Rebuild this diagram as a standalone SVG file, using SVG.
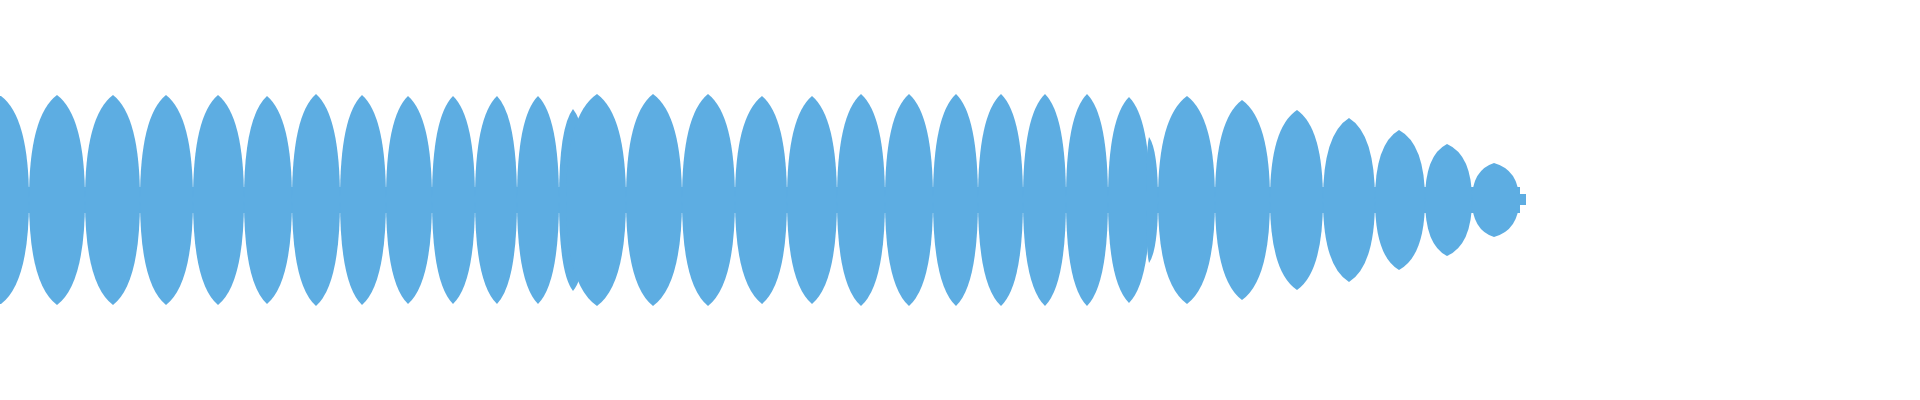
<svg xmlns="http://www.w3.org/2000/svg" width="1920" height="400" viewBox="0 0 1920 400">
<style>.w{fill:#5dade2}</style>
<rect width="1920" height="400" fill="#fff"/>
<g id="waveform" class="w">
<rect x="0" y="187" width="1520" height="26"/>
<rect x="1519" y="194" width="7" height="11"/>
<path d="M0 200 L0 96 L1 96 Q29 117 29 200 Q29 283 1 304 L0 304 Z"/>
<path d="M29 200 Q29 116 57 95 Q85 116 85 200 Q85 284 57 305 Q29 284 29 200Z"/>
<path d="M85 200 Q85 116 113 95 Q140 116 140 200 Q140 284 113 305 Q85 284 85 200Z"/>
<path d="M140 200 Q140 116 166 95 Q193 116 193 200 Q193 284 166 305 Q140 284 140 200Z"/>
<path d="M193 200 Q193 116 218 95 Q244 116 244 200 Q244 284 218 305 Q193 284 193 200Z"/>
<path d="M244 200 Q244 117 267 96 Q292 117 292 200 Q292 283 267 304 Q244 283 244 200Z"/>
<path d="M292 200 Q292 115 316 94 Q340 115 340 200 Q340 285 316 306 Q292 285 292 200Z"/>
<path d="M340 200 Q340 116 362 95 Q386 116 386 200 Q386 284 362 305 Q340 284 340 200Z"/>
<path d="M386 200 Q386 117 408 96 Q432 117 432 200 Q432 283 408 304 Q386 283 386 200Z"/>
<path d="M432 200 Q432 117 453 96 Q475 117 475 200 Q475 283 453 304 Q432 283 432 200Z"/>
<path d="M475 200 Q475 117 497 96 Q517 117 517 200 Q517 283 497 304 Q475 283 475 200Z"/>
<path d="M517 200 Q517 117 538 96 Q559 117 559 200 Q559 283 538 304 Q517 283 517 200Z"/>
<path d="M559 200 Q559 127 573 109 Q588 127 588 200 Q588 273 573 291 Q559 273 559 200Z"/>
<path d="M566 200 Q566 115 597 94 Q626 115 626 200 Q626 285 597 306 Q566 285 566 200Z"/>
<path d="M626 200 Q626 115 653 94 Q682 115 682 200 Q682 285 653 306 Q626 285 626 200Z"/>
<path d="M682 200 Q682 115 708 94 Q735 115 735 200 Q735 285 708 306 Q682 285 682 200Z"/>
<path d="M735 200 Q735 117 762 96 Q787 117 787 200 Q787 283 762 304 Q735 283 735 200Z"/>
<path d="M787 200 Q787 117 812 96 Q837 117 837 200 Q837 283 812 304 Q787 283 787 200Z"/>
<path d="M837 200 Q837 115 861 94 Q885 115 885 200 Q885 285 861 306 Q837 285 837 200Z"/>
<path d="M885 200 Q885 115 909 94 Q933 115 933 200 Q933 285 909 306 Q885 285 885 200Z"/>
<path d="M933 200 Q933 115 956 94 Q978 115 978 200 Q978 285 956 306 Q933 285 933 200Z"/>
<path d="M978 200 Q978 115 1001 94 Q1023 115 1023 200 Q1023 285 1001 306 Q978 285 978 200Z"/>
<path d="M1023 200 Q1023 115 1045 94 Q1066 115 1066 200 Q1066 285 1045 306 Q1023 285 1023 200Z"/>
<path d="M1066 200 Q1066 115 1087 94 Q1108 115 1108 200 Q1108 285 1087 306 Q1066 285 1066 200Z"/>
<path d="M1108 200 Q1108 118 1129 97 Q1150 118 1150 200 Q1150 282 1129 303 Q1108 282 1108 200Z"/>
<path d="M1146 200 Q1146 150 1149 137 Q1158 150 1158 200 Q1158 250 1149 263 Q1146 250 1146 200Z"/>
<path d="M1158 200 Q1158 117 1187 96 Q1215 117 1215 200 Q1215 283 1187 304 Q1158 283 1158 200Z"/>
<path d="M1215 200 Q1215 120 1242 100 Q1270 120 1270 200 Q1270 280 1242 300 Q1215 280 1215 200Z"/>
<path d="M1270 200 Q1270 128 1297 110 Q1323 128 1323 200 Q1323 272 1297 290 Q1270 272 1270 200Z"/>
<path d="M1323 200 Q1323 134 1349 118 Q1375 134 1375 200 Q1375 266 1349 282 Q1323 266 1323 200Z"/>
<path d="M1375 200 Q1375 144 1399 130 Q1425 144 1425 200 Q1425 256 1399 270 Q1375 256 1375 200Z"/>
<path d="M1425 200 Q1425 155 1447 144 Q1472 155 1472 200 Q1472 245 1447 256 Q1425 245 1425 200Z"/>
<path d="M1472 200 Q1472 170 1494 163 Q1519 170 1519 200 Q1519 230 1494 237 Q1472 230 1472 200Z"/>
</g>
</svg>
